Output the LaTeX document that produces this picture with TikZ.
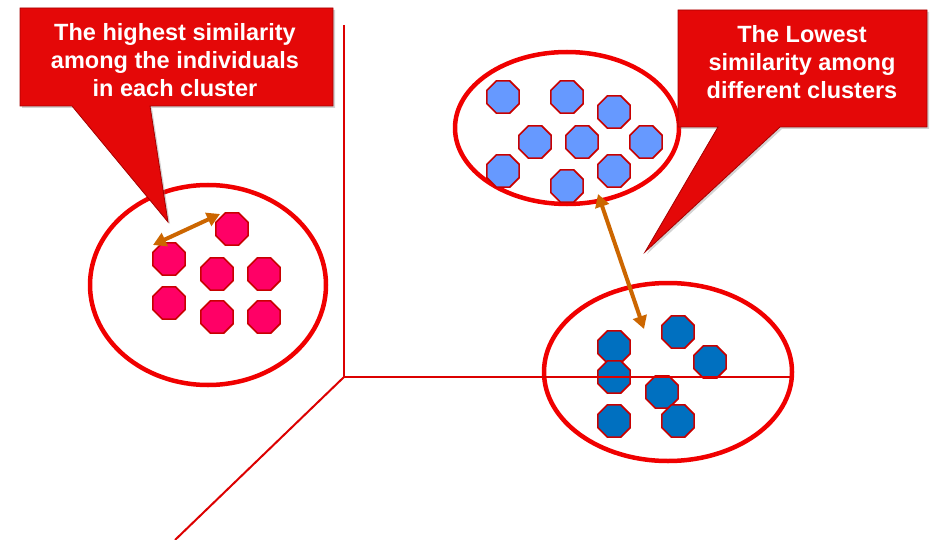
\documentclass[tikz,border=0pt]{standalone}
\usepackage{fontspec}
\setmainfont{Liberation Sans}
\usetikzlibrary{shapes.geometric,arrows.meta,shadows}
\definecolor{axisred}{RGB}{220,0,0}
\definecolor{ringred}{RGB}{240,0,0}
\definecolor{callred}{RGB}{228,8,8}
\definecolor{callborder}{RGB}{165,0,0}
\definecolor{octborder}{RGB}{200,0,0}
\definecolor{pinkfill}{RGB}{255,0,102}
\definecolor{lightblue}{RGB}{102,153,255}
\definecolor{darkblue}{RGB}{0,112,192}
\definecolor{arrowbrown}{RGB}{204,102,0}
\begin{document}
\begin{tikzpicture}[x=1pt,y=-1pt,
  oct/.style={regular polygon,regular polygon sides=8,
    minimum size=35pt,inner sep=0pt,draw=octborder,line width=1.6pt},
  pinkoct/.style={oct,fill=pinkfill},
  lightoct/.style={oct,fill=lightblue},
  darkoct/.style={oct,fill=darkblue},
  ring/.style={ellipse,draw=ringred,line width=4.5pt,inner sep=0pt},
  axis/.style={draw=axisred,line width=2pt},
  callout/.style={fill=callred,draw=callborder,line width=0.8pt,
    drop shadow={shadow xshift=2pt,shadow yshift=-2pt,opacity=0.35}},
  calltext/.style={text=white,font=\bfseries\fontsize{23.5}{28}\selectfont,align=center},
  link/.style={draw=arrowbrown,line width=4pt,{Triangle[length=13pt,width=14pt]}-{Triangle[length=13pt,width=14pt]}}
]
\useasboundingbox (0,0) rectangle (931,540);

% rings
\node[ring,minimum width=236pt,minimum height=200pt] (ringL) at (208,285) {};
\node[ring,minimum width=224pt,minimum height=152pt] (ringT) at (567,128) {};
\node[ring,minimum width=248pt,minimum height=178pt] (ringB) at (668,372) {};

% pink cluster
\node[pinkoct] (p1) at (232,229) {};
\node[pinkoct] (p2) at (169,259) {};
\node[pinkoct] (p3) at (217,274) {};
\node[pinkoct] (p4) at (264,274) {};
\node[pinkoct] (p5) at (169,303) {};
\node[pinkoct] (p6) at (217,317) {};
\node[pinkoct] (p7) at (264,317) {};

% light blue cluster
\node[lightoct] (t1) at (503,97) {};
\node[lightoct] (t2) at (567,97) {};
\node[lightoct] (t3) at (614,112) {};
\node[lightoct] (t4) at (535,142) {};
\node[lightoct] (t5) at (582,142) {};
\node[lightoct] (t6) at (646,142) {};
\node[lightoct] (t7) at (503,171) {};
\node[lightoct] (t8) at (567,186) {};
\node[lightoct] (t9) at (614,171) {};

% dark blue cluster
\node[darkoct] (b1) at (678,332) {};
\node[darkoct] (b2) at (710,362) {};
\node[darkoct] (b3) at (614,347) {};
\node[darkoct] (b4) at (614,377) {};
\node[darkoct] (b5) at (662,392) {};
\node[darkoct] (b6) at (614,421) {};
\node[darkoct] (b7) at (678,421) {};

% axes
\coordinate (origin) at (344,377);
\coordinate (ytop) at (344,25);
\coordinate (xend) at (790,377);
\coordinate (zend) at (175,540);
\draw[axis] (ytop) -- (origin) -- (xend);
\draw[axis] (origin) -- (zend);

% arrows
\coordinate (la) at (153,245);
\coordinate (lb) at (220,214);
\draw[link] (la) -- (lb);
\coordinate (ra) at (598,194);
\coordinate (rb) at (644,329);
\draw[link] (ra) -- (rb);

% callout left
\path[callout] (20,8) -- (333,8) -- (333,106) -- (150,106) -- (168,222) -- (72,106) -- (20,106) -- cycle;
\node[calltext] (c1) at (175,60) {The highest similarity\\among the individuals\\in each cluster};

% callout right
\path[callout] (678,10) -- (927,10) -- (927,127) -- (780,127) -- (645,252) -- (718,127) -- (678,127) -- cycle;
\node[calltext] (c2) at (802,62) {The Lowest\\similarity among\\different clusters};
\end{tikzpicture}
\end{document}
